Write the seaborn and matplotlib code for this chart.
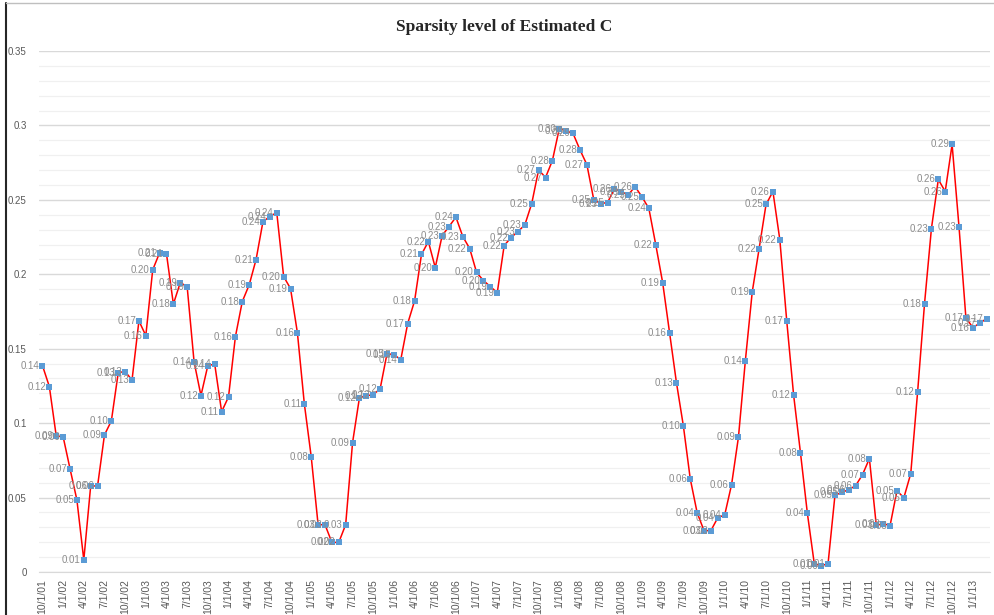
import pandas as pd
import matplotlib
matplotlib.use("Agg")
import matplotlib.pyplot as plt
import seaborn as sns

# monthly sparsity level, Oct 2001 - Mar 2013
sparsity = [
    0.1387, 0.1246, 0.0914, 0.0909, 0.0694, 0.0484, 0.0081, 0.0578, 0.0578, 0.0921,
    0.1015, 0.1340, 0.1346, 0.1290, 0.1687, 0.1588, 0.2030, 0.2144, 0.2137, 0.1800,
    0.1944, 0.1917, 0.1413, 0.1185, 0.1387, 0.1396, 0.1077, 0.1176, 0.1581, 0.1817,
    0.1929, 0.2099, 0.2354, 0.2388, 0.2415, 0.1985, 0.1904, 0.1606, 0.1131, 0.0775,
    0.0318, 0.0318, 0.0199, 0.0199, 0.0318, 0.0869, 0.1171, 0.1183, 0.1192, 0.1230,
    0.1467, 0.1460, 0.1427, 0.1669, 0.1821, 0.2133, 0.2220, 0.2045, 0.2260, 0.2321,
    0.2384, 0.2253, 0.2173, 0.2012, 0.1958, 0.1917, 0.1877, 0.2193, 0.2247, 0.2287,
    0.2332, 0.2475, 0.2702, 0.2650, 0.2764, 0.2979, 0.2964, 0.2946, 0.2836, 0.2737,
    0.2502, 0.2475, 0.2482, 0.2574, 0.2556, 0.2534, 0.2589, 0.2520, 0.2442, 0.2198,
    0.1944, 0.1608, 0.1272, 0.0983, 0.0627, 0.0399, 0.0278, 0.0278, 0.0365, 0.0383,
    0.0587, 0.0907, 0.1420, 0.1882, 0.2173, 0.2469, 0.2556, 0.2233, 0.1689, 0.1190,
    0.0800, 0.0394, 0.0056, 0.0042, 0.0056, 0.0515, 0.0535, 0.0553, 0.0580, 0.0654,
    0.0762, 0.0313, 0.0325, 0.0312, 0.0546, 0.0499, 0.0661, 0.1212, 0.1803, 0.2307,
    0.2637, 0.2556, 0.2872, 0.2321, 0.1709, 0.1642, 0.1671, 0.1702,
]

months = pd.date_range("2001-10-01", periods=len(sparsity), freq="MS")
month_labels = [f"{d.month}/{d.day}/{d.strftime('%y')}" for d in months]

df = pd.DataFrame({"pos": range(len(sparsity)), "month": month_labels, "value": sparsity})

sns.set_style("white")
plt.rcParams["font.family"] = ["Liberation Sans", "DejaVu Sans"]

fig = plt.figure(figsize=(9.95, 6.15), dpi=100)
ax = fig.add_axes([39 / 995, 43 / 615, 951 / 995, 521 / 615])

sns.lineplot(data=df, x="pos", y="value", color="#ff0000", linewidth=1.1, ax=ax, zorder=3)
sns.scatterplot(data=df, x="pos", y="value", marker="s", color="#5b9bd5", s=14,
                linewidth=0, ax=ax, zorder=4)

# data labels to the left of each point
for x, y in zip(df["pos"], df["value"]):
    ax.annotate(f"{y:.2f}", (x, y), xytext=(-3, 0), textcoords="offset pixels",
                ha="right", va="center", fontsize=7, color="#8c8c8c", zorder=5)

ax.set_xlim(-0.5, len(sparsity) - 0.5)
ax.set_ylim(0, 0.35)

# y grid: major every 0.05, minor every 0.01
ax.set_yticks([0, 0.05, 0.1, 0.15, 0.2, 0.25, 0.3, 0.35])
ax.set_yticklabels(["0", "0.05", "0.1", "0.15", "0.2", "0.25", "0.3", "0.35"])
ax.set_yticks([i / 100 for i in range(36)], minor=True)
ax.grid(axis="y", which="major", color="#d9d9d9", linewidth=1.0)
ax.grid(axis="y", which="minor", color="#f0f0f0", linewidth=0.9)
ax.tick_params(axis="y", which="both", length=0, labelsize=7, labelcolor="#595959", pad=9)

# x labels every quarter, tick marks at category boundaries
ax.set_xticks(df["pos"][::3])
ax.set_xticklabels(df["month"][::3], rotation=90)
ax.set_xticks([p - 0.5 for p in df["pos"][::3]] + [len(sparsity) - 0.5], minor=True)
ax.tick_params(axis="x", which="major", length=0, labelsize=7.5, labelcolor="#595959", pad=5)
ax.tick_params(axis="x", which="minor", length=4, color="#d9d9d9", width=1)

ax.set_xlabel("")
ax.set_ylabel("")
for side in ["left", "right", "top"]:
    ax.spines[side].set_visible(False)
ax.spines["bottom"].set_color("#d9d9d9")
ax.set_axisbelow(True)

fig.text(0.507, 0.956, "Sparsity level of Estimated C", ha="center", va="center",
         fontsize=12.5, fontweight="bold", family=["Liberation Serif", "DejaVu Serif"])

# chart area border on the left and top
fig.add_artist(plt.Line2D([6 / 995, 6 / 995], [0, 612 / 615], color="#262626", linewidth=1.5))
fig.add_artist(plt.Line2D([6 / 995, 1], [612 / 615, 612 / 615], color="#bfbfbf", linewidth=1.0))

fig.savefig("out.png", dpi=100)
